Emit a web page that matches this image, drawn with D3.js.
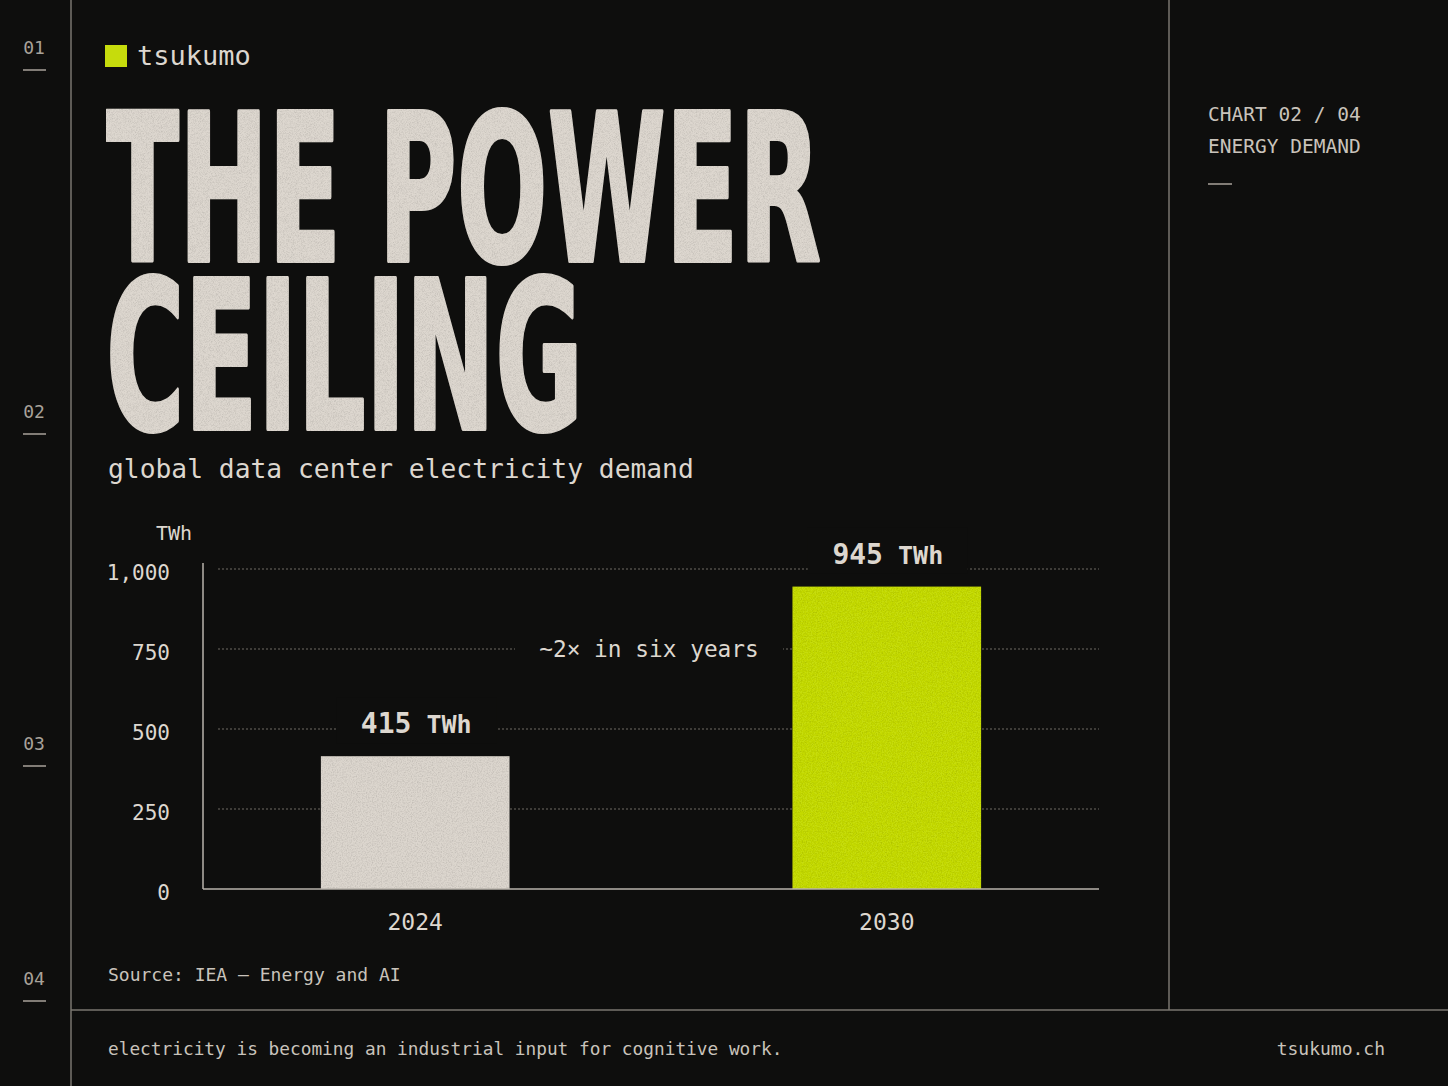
<!DOCTYPE html>
<html>
<head>
<meta charset="utf-8">
<script src="https://cdn.jsdelivr.net/npm/d3@7"></script>
<style>
  html, body { margin: 0; padding: 0; background: #0e0e0d; }
  svg { display: block; }
</style>
</head>
<body>
<div id="chart"></div>
<script>
// data
const years = ["2024", "2030"];
const demand = [415, 945];
const yTicks = [0, 250, 500, 750, 1000];
const barColors = ["#dcd6ce", "#c6dc0c"];
const sideNumbers = ["01", "02", "03", "04"];
const sideNumberY = [47, 411, 743, 978];

const W = 1448, H = 1086;
const bg = "#0e0e0d";
const cream = "#ddd7cf";
const lime = "#c6dc0c";
const rule = "#7a766f";
const mono = "'DejaVu Sans Mono', 'Liberation Mono', monospace";

const svg = d3.select("#chart").append("svg")
    .attr("width", W).attr("height", H)

svg.append("rect").attr("width", W).attr("height", H).attr("fill", bg)

// grain filter, kept faint
const defs = svg.append("defs")
const grain = defs.append("filter").attr("id", "grain").attr("x", 0).attr("y", 0).attr("width", 1).attr("height", 1)
grain.append("feTurbulence").attr("type", "fractalNoise").attr("baseFrequency", 0.8).attr("numOctaves", 2).attr("result", "n")
grain.append("feColorMatrix").attr("in", "n").attr("type", "matrix")
    .attr("values", "0 0 0 0 0  0 0 0 0 0  0 0 0 0 0  0 0 0 -0.5 0.3").attr("result", "a")
grain.append("feComposite").attr("in", "a").attr("in2", "SourceGraphic").attr("operator", "in").attr("result", "b")
grain.append("feMerge").selectAll("feMergeNode").data(["SourceGraphic", "b"]).join("feMergeNode").attr("in", d => d)

// frame rules
svg.append("line").attr("x1", 71).attr("x2", 71).attr("y1", 0).attr("y2", H).attr("stroke", rule).attr("stroke-width", 1.5)
svg.append("line").attr("x1", 1169).attr("x2", 1169).attr("y1", 0).attr("y2", 1010).attr("stroke", rule).attr("stroke-width", 1.5)
svg.append("line").attr("x1", 71).attr("x2", W).attr("y1", 1010).attr("y2", 1010).attr("stroke", rule).attr("stroke-width", 1.5)

// side numbers
const side = svg.append("g")
sideNumbers.forEach((n, i) => {
    side.append("text").attr("x", 34).attr("y", sideNumberY[i] + 7)
        .attr("text-anchor", "middle").attr("font-family", mono).attr("font-size", 18)
        .attr("fill", "#a8a29a").text(n)
    side.append("line").attr("x1", 23).attr("x2", 46)
        .attr("y1", sideNumberY[i] + 23).attr("y2", sideNumberY[i] + 23)
        .attr("stroke", "#a8a29a").attr("stroke-width", 1.5)
})

// logo
svg.append("rect").attr("x", 105).attr("y", 45).attr("width", 22).attr("height", 22).attr("fill", lime)
svg.append("text").attr("x", 137).attr("y", 65).attr("font-family", mono).attr("font-size", 27)
    .attr("fill", cream).text("tsukumo")

// title: squeeze horizontally with a transform so the box stays honest
const titleFont = "'Liberation Sans Narrow', 'DejaVu Sans Condensed', 'Liberation Sans', sans-serif"
const titleLines = [["THE POWER", 261, 715], ["CEILING", 429, 477]]
titleLines.forEach(([t, y, w]) => {
    const g = svg.append("g")
    const txt = g.append("text").attr("x", 0).attr("y", 0)
        .attr("font-family", titleFont).attr("font-weight", 700).attr("font-size", 206)
        .attr("fill", cream).attr("stroke", cream).attr("stroke-width", 4).attr("stroke-linejoin", "round")
        .attr("filter", "url(#grain)").text(t)
    const natural = txt.node().getComputedTextLength()
    g.attr("transform", `translate(106,${y}) scale(${w / natural},1)`)
})

svg.append("text").attr("x", 108).attr("y", 478).attr("font-family", mono).attr("font-size", 26.3)
    .attr("fill", cream).text("global data center electricity demand")

// right panel
svg.append("text").attr("x", 1208).attr("y", 121).attr("font-family", mono).attr("font-size", 19.5)
    .attr("fill", "#c9c3bb").text("CHART 02 / 04")
svg.append("text").attr("x", 1208).attr("y", 153).attr("font-family", mono).attr("font-size", 19.5)
    .attr("fill", "#c9c3bb").text("ENERGY DEMAND")
svg.append("line").attr("x1", 1208).attr("x2", 1232).attr("y1", 184).attr("y2", 184)
    .attr("stroke", "#a8a29a").attr("stroke-width", 1.5)

// chart
const x = d3.scaleBand().domain(years).range([203, 1099]).paddingInner(0.6).paddingOuter(0.25)
const y = d3.scaleLinear().domain([0, 1000]).range([889, 569])

const chart = svg.append("g")

chart.selectAll(".grid").data(yTicks.filter(d => d > 0)).join("line")
    .attr("class", "grid")
    .attr("x1", 218).attr("x2", 1099)
    .attr("y1", d => y(d)).attr("y2", d => y(d))
    .attr("stroke", "#6e6a64").attr("stroke-width", 1.2).attr("stroke-dasharray", "2,2")

chart.selectAll(".tick").data(yTicks).join("text")
    .attr("class", "tick")
    .attr("x", 170).attr("y", d => y(d) + 11)
    .attr("text-anchor", "end").attr("font-family", mono).attr("font-size", 21)
    .attr("fill", cream).text(d => d3.format(",")(d))

chart.append("text").attr("x", 192).attr("y", 540).attr("text-anchor", "end")
    .attr("font-family", mono).attr("font-size", 20).attr("fill", cream).text("TWh")

// annotation
const midX = (x(years[0]) + x(years[1]) + x.bandwidth()) / 2
chart.append("rect").attr("x", midX - 136).attr("y", y(750) - 16).attr("width", 268).attr("height", 32).attr("fill", bg)
chart.append("text").attr("x", midX - 2).attr("y", y(750) + 8).attr("text-anchor", "middle")
    .attr("font-family", mono).attr("font-size", 22.8).attr("fill", cream).text("~2× in six years")

// bars
chart.selectAll(".bar").data(demand).join("rect")
    .attr("class", "bar")
    .attr("x", (d, i) => x(years[i]))
    .attr("width", x.bandwidth())
    .attr("y", d => y(d))
    .attr("height", d => y(0) - y(d))
    .attr("fill", (d, i) => barColors[i])
    .attr("filter", "url(#grain)")

// value labels
const labels = chart.selectAll(".val").data(demand).join("g").attr("class", "val")
    .attr("transform", (d, i) => `translate(${x(years[i]) + x.bandwidth() / 2 + 1},${y(d) - 23})`)
labels.append("rect").attr("x", -80).attr("y", -36).attr("width", 160).attr("height", 46).attr("fill", bg)
const lt = labels.append("text").attr("text-anchor", "middle").attr("font-family", mono)
    .attr("font-weight", 700).attr("fill", cream)
lt.append("tspan").attr("font-size", 28).text(d => d)
lt.append("tspan").attr("font-size", 25).text(" TWh")

// axes lines
chart.append("line").attr("x1", 203).attr("x2", 203).attr("y1", 563).attr("y2", y(0))
    .attr("stroke", "#b9b3ab").attr("stroke-width", 1.5)
chart.append("line").attr("x1", 203).attr("x2", 1099).attr("y1", y(0)).attr("y2", y(0))
    .attr("stroke", "#b9b3ab").attr("stroke-width", 1.5)

chart.selectAll(".xlab").data(years).join("text")
    .attr("class", "xlab")
    .attr("x", d => x(d) + x.bandwidth() / 2).attr("y", 930)
    .attr("text-anchor", "middle").attr("font-family", mono).attr("font-size", 23)
    .attr("fill", cream).text(d => d)

// source & footer
svg.append("text").attr("x", 108).attr("y", 981).attr("font-family", mono).attr("font-size", 18)
    .attr("fill", "#c9c3bb").text("Source: IEA — Energy and AI")
svg.append("text").attr("x", 108).attr("y", 1055).attr("font-family", mono).attr("font-size", 17.8)
    .attr("fill", "#c9c3bb").text("electricity is becoming an industrial input for cognitive work.")
svg.append("text").attr("x", 1385).attr("y", 1055).attr("text-anchor", "end").attr("font-family", mono).attr("font-size", 18)
    .attr("fill", "#c9c3bb").text("tsukumo.ch")
</script>
</body>
</html>
